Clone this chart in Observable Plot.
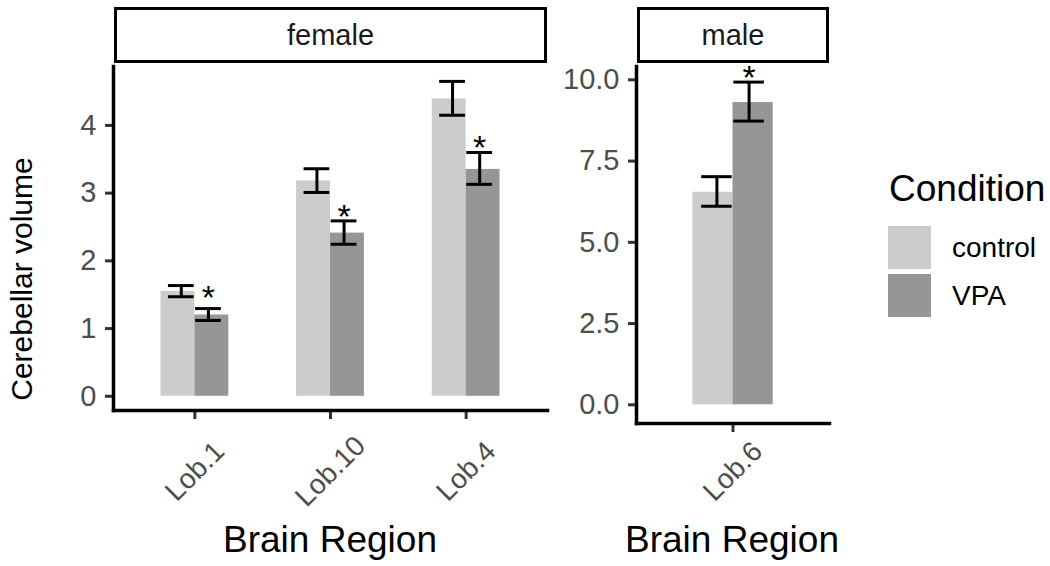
<!DOCTYPE html>
<html><head><meta charset="utf-8">
<script src="https://cdn.jsdelivr.net/npm/d3@7"></script>
<script src="https://cdn.jsdelivr.net/npm/@observablehq/plot@0.6"></script>
<style>
body{margin:0;background:#fff;font-family:"Liberation Sans",Arial,sans-serif;}
#wrap{position:relative;width:1050px;height:566px;overflow:hidden;background:#fff}
.panel{position:absolute;top:0}
.strip{position:absolute;box-sizing:border-box;border:3.5px solid #000;display:flex;align-items:center;justify-content:center;font-size:29px;color:#1a1a1a;background:#fff}
.xtitle{position:absolute;width:400px;text-align:center;font-size:37px;line-height:1;color:#000;white-space:nowrap}
.ytitle{position:absolute;font-size:30px;line-height:1;color:#000;white-space:nowrap;transform:translate(-50%,-50%) rotate(-90deg)}
.legtitle{position:absolute;font-size:37px;line-height:1;color:#000}
.key{position:absolute;width:43px;height:43px}
.keylab{position:absolute;font-size:28px;line-height:1;color:#000}
</style></head><body><div id="wrap"></div>
<script>
// ---- data ----
const conditions = ["control", "VPA"];
const conditionColors = ["#cccccc", "#969696"];

const femaleRegions = ["Lob.1", "Lob.10", "Lob.4"];
const femaleControl   = [1.55, 3.18, 4.39];
const femaleControlLo = [1.47, 3.01, 4.15];
const femaleControlHi = [1.635, 3.36, 4.65];
const femaleVPA       = [1.20, 2.41, 3.35];
const femaleVPALo     = [1.12, 2.245, 3.13];
const femaleVPAHi     = [1.295, 2.59, 3.60];
const femaleStar      = [1.575, 2.76, 3.79];
const femaleYTicks    = [0, 1, 2, 3, 4];

const maleRegions = ["Lob.6"];
const maleControl   = [6.54];
const maleControlLo = [6.11];
const maleControlHi = [7.02];
const maleVPA       = [9.30];
const maleVPALo     = [8.73];
const maleVPAHi     = [9.93];
const maleStar      = [10.3];
const maleYTicks    = [0, 2.5, 5, 7.5, 10];

const FONT = '"Liberation Sans", Arial, sans-serif';

function rows(regions, v, lo, hi) {
  return regions.map((r, i) => ({region: r, value: v[i], lo: lo[i], hi: hi[i]}));
}

function panel(o) {
  const W = o.width, H = 566;
  const range = [o.marginLeft, W - o.marginRight];
  const xOpts = {type: "band", domain: o.regions, paddingInner: 0.5, paddingOuter: 0.35, round: false};
  const xs = Plot.scale({x: {...xOpts, range}});
  const bw = xs.bandwidth, step = xs.step;
  const errShift = 0.025 * step, capHalf = 0.095 * step;
  const offC = -bw / 4 + errShift, offV = bw / 4 - errShift;
  const ctrl = rows(o.regions, o.ctrl, o.ctrlLo, o.ctrlHi);
  const vpa = rows(o.regions, o.vpa, o.vpaLo, o.vpaHi);
  const stars = o.regions.map((r, i) => ({region: r, y: o.star[i]}));
  const err = (data, off) => [
    Plot.ruleX(data, {x: "region", y1: "lo", y2: "hi", dx: off, stroke: "#000", strokeWidth: 3}),
    Plot.tickY(data, {x: "region", y: "hi", insetLeft: bw / 2 + off - capHalf, insetRight: bw / 2 - off - capHalf, stroke: "#000", strokeWidth: 3}),
    Plot.tickY(data, {x: "region", y: "lo", insetLeft: bw / 2 + off - capHalf, insetRight: bw / 2 - off - capHalf, stroke: "#000", strokeWidth: 3})
  ];
  return Plot.plot({
    width: W, height: H,
    marginLeft: o.marginLeft, marginRight: o.marginRight,
    marginTop: o.marginTop, marginBottom: o.marginBottom,
    style: {fontFamily: FONT, background: "transparent", overflow: "visible"},
    x: xOpts,
    y: {domain: o.yDomain},
    marks: [
      Plot.barY(ctrl, {x: "region", y: "value", fill: conditionColors[0], insetRight: bw / 2}),
      Plot.barY(vpa, {x: "region", y: "value", fill: conditionColors[1], insetLeft: bw / 2}),
      ...err(ctrl, offC),
      ...err(vpa, offV),
      Plot.text(stars, {x: "region", y: "y", text: () => "*", dx: offV, dy: 8, fontSize: 34, fill: "#000"}),
      Plot.axisY({ticks: o.yTicks, tickFormat: o.tickFormat, tickSize: 8, tickPadding: 9, fontSize: 29, fill: "#4d4d4d", stroke: "#333", strokeWidth: 3, label: null}),
      Plot.axisX({tickSize: 9, tickFormat: () => "", stroke: "#333", strokeWidth: 3, label: null}),
      Plot.text(o.regions, {x: d => d, frameAnchor: "bottom", dy: o.labelDy, rotate: -45, textAnchor: "middle", lineAnchor: "middle", fontSize: 28, fill: "#4d4d4d"}),
      Plot.frame({anchor: "left", stroke: "#000", strokeWidth: 3.5}),
      Plot.frame({anchor: "bottom", stroke: "#000", strokeWidth: 3.5})
    ]
  });
}

const wrap = document.getElementById("wrap");

const fem = panel({
  regions: femaleRegions, ctrl: femaleControl, ctrlLo: femaleControlLo, ctrlHi: femaleControlHi,
  vpa: femaleVPA, vpaLo: femaleVPALo, vpaHi: femaleVPAHi, star: femaleStar,
  yDomain: [-0.21, 4.87], yTicks: femaleYTicks, tickFormat: d3.format("d"),
  width: 560, marginLeft: 113, marginRight: 13, marginTop: 66, marginBottom: 156, labelDy: 61
});
fem.classList.add("panel"); fem.style.left = "0px";
wrap.appendChild(fem);

const mal = panel({
  regions: maleRegions, ctrl: maleControl, ctrlLo: maleControlLo, ctrlHi: maleControlHi,
  vpa: maleVPA, vpaLo: maleVPALo, vpaHi: maleVPAHi, star: maleStar,
  yDomain: [-0.575, 10.41], yTicks: maleYTicks, tickFormat: d3.format(".1f"),
  width: 290, marginLeft: 76, marginRight: 21, marginTop: 66, marginBottom: 143, labelDy: 48
});
mal.classList.add("panel"); mal.style.left = "560px";
wrap.appendChild(mal);

function add(cls, text, css) {
  const d = document.createElement("div");
  d.className = cls; d.textContent = text; Object.assign(d.style, css);
  wrap.appendChild(d); return d;
}
// strips
add("strip", "female", {left: "114px", top: "7px", width: "433px", height: "56px"});
add("strip", "male", {left: "637px", top: "7px", width: "192px", height: "56px"});
// axis titles
add("xtitle", "Brain Region", {left: "130px", top: "521px"});
add("xtitle", "Brain Region", {left: "532px", top: "521px"});
add("ytitle", "Cerebellar volume", {left: "22px", top: "279px"});
// legend
add("legtitle", "Condition", {left: "889px", top: "170px"});
conditions.forEach((c, i) => {
  add("key", "", {left: "888px", top: (226 + i * 48) + "px", background: conditionColors[i]});
  add("keylab", c, {left: "952px", top: (234 + i * 48) + "px"});
});
</script>
</body></html>
